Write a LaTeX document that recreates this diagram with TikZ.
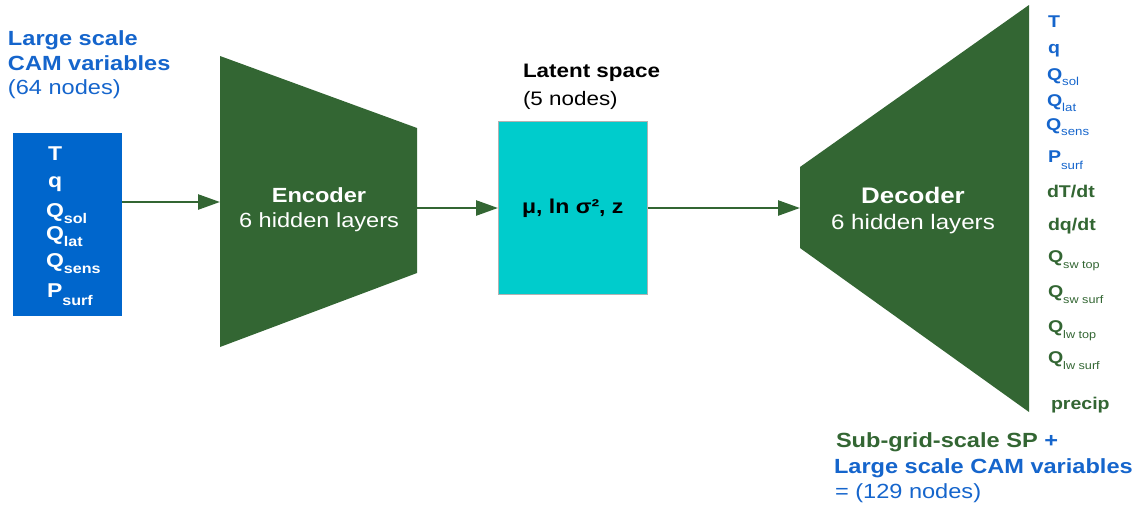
\documentclass[tikz,border=0pt]{standalone}
\usepackage{fontspec}
\setmainfont{Liberation Sans}[FakeStretch=1.15]
\usetikzlibrary{arrows.meta}
\definecolor{fgreen}{RGB}{51,102,51}
\definecolor{tblue}{RGB}{21,101,204}
\definecolor{boxblue}{RGB}{0,102,204}
\definecolor{latcyan}{RGB}{0,204,204}
\newcommand\fs[1]{\fontsize{#1}{#1}\selectfont}
\newcommand\lsub[2][6]{\raisebox{-#1pt}{#2}}
\begin{document}
\begin{tikzpicture}[x=1pt,y=-1pt,
  txt/.style={anchor=base west,inner sep=0pt,outer sep=0pt},
  flow/.style={draw=fgreen,line width=2.5pt,-{Triangle[length=22pt,width=15pt]}},
  inlab/.style={txt,text=white,font=\fs{20}\bfseries},
  outblue/.style={txt,text=tblue,font=\fs{17}\bfseries},
  outgreen/.style={txt,text=fgreen,font=\fs{17}\bfseries},
  coder/.style={fill=fgreen},
  codertxt/.style={anchor=base,inner sep=0pt,text=white}]
\useasboundingbox (0,0) rectangle (1138,509);

% input title
\node[txt,text=tblue,font=\fs{20.5}\bfseries] (t1) at (8,45) {Large scale};
\node[txt,text=tblue,font=\fs{20.5}\bfseries] (t2) at (8,70) {CAM variables};
\node[txt,text=tblue,font=\fs{20.5}] (t3) at (8,94) {(64 nodes)};

% input box
\node[fill=boxblue,minimum width=109pt,minimum height=183pt,inner sep=0pt,anchor=north west] (inbox) at (13,133) {};
\node[inlab] (iT) at (48,160) {T};
\node[inlab] (iq) at (48,187) {q};
\node[inlab] (iQs) at (46,217) {Q\lsub[6]{\fs{14}sol}};
\node[inlab] (iQl) at (46,240) {Q\lsub[6]{\fs{14}lat}};
\node[inlab] (iQh) at (46,267) {Q\lsub[6]{\fs{14}sens}};
\node[inlab] (iP) at (47,297) {P\lsub[8]{\fs{14}surf}};

% encoder
\coordinate (e1) at (220,56);
\coordinate (e2) at (417,128);
\coordinate (e3) at (417,273);
\coordinate (e4) at (220,347);
\coordinate (encin) at (220,202);
\coordinate (encout) at (417,208);
\fill[coder] (e1) -- (e2) -- (e3) -- (e4) -- cycle;
\node[codertxt,font=\fs{20.5}\bfseries] (encname) at (319,202) {Encoder};
\node[codertxt,font=\fs{20.5}] (enclay) at (319,227) {6 hidden layers};

% latent space
\node[txt,font=\fs{19.5}\bfseries] (lt1) at (523,77) {Latent space};
\node[txt,font=\fs{19.5}] (lt2) at (523,105) {(5 nodes)};
\node[fill=latcyan,draw=gray!60,line width=0.6pt,minimum width=149pt,minimum height=173pt,inner sep=0pt,anchor=north west,font=\fs{20}\bfseries] (latent) at (498,121) {μ, ln σ², z};

% decoder
\coordinate (d1) at (800,167);
\coordinate (d2) at (1029,5);
\coordinate (d3) at (1029,412);
\coordinate (d4) at (800,248);
\coordinate (decin) at (800,208);
\fill[coder] (d1) -- (d2) -- (d3) -- (d4) -- cycle;
\node[codertxt,font=\fs{22.5}\bfseries] (decname) at (913,203) {Decoder};
\node[codertxt,font=\fs{21}] (declay) at (913,229) {6 hidden layers};

% connectors
\draw[flow] (inbox.east |- encin) -- (encin);
\draw[flow] (encout) -- (latent.west |- encout);
\draw[flow] (latent.east |- decin) -- (decin);

% output variables
\node[outblue] (oT) at (1048,27) {T};
\node[outblue] (oq) at (1048,53) {q};
\node[outblue] (oQs) at (1047,80) {Q\lsub[5]{\fs{11.5}\mdseries sol}};
\node[outblue] (oQl) at (1047,106) {Q\lsub[5]{\fs{11.5}\mdseries lat}};
\node[outblue] (oQh) at (1046,130) {Q\lsub[5]{\fs{11.5}\mdseries sens}};
\node[outblue] (oP) at (1048,162) {P\lsub[7]{\fs{11.5}\mdseries surf}};
\node[outgreen] (odT) at (1047,197) {dT/dt};
\node[outgreen] (odq) at (1048,230) {dq/dt};
\node[outgreen] (oQst) at (1048,262) {Q\lsub[6]{\fs{11}\mdseries sw top}};
\node[outgreen] (oQss) at (1048,297) {Q\lsub[6]{\fs{11}\mdseries sw surf}};
\node[outgreen] (oQlt) at (1048,332) {Q\lsub[6]{\fs{11}\mdseries lw top}};
\node[outgreen] (oQls) at (1048,363) {Q\lsub[6]{\fs{11}\mdseries lw surf}};
\node[outgreen] (opr) at (1051,409) {precip};

% output title
\node[txt,text=fgreen,font=\fs{20.5}\bfseries] (b1) at (836,447) {Sub-grid-scale SP \textcolor{tblue}{+}};
\node[txt,text=tblue,font=\fs{20.5}\bfseries] (b2) at (834,473) {Large scale CAM variables};
\node[txt,text=tblue,font=\fs{20.5}] (b3) at (835,498) {= (129 nodes)};
\end{tikzpicture}
\end{document}
